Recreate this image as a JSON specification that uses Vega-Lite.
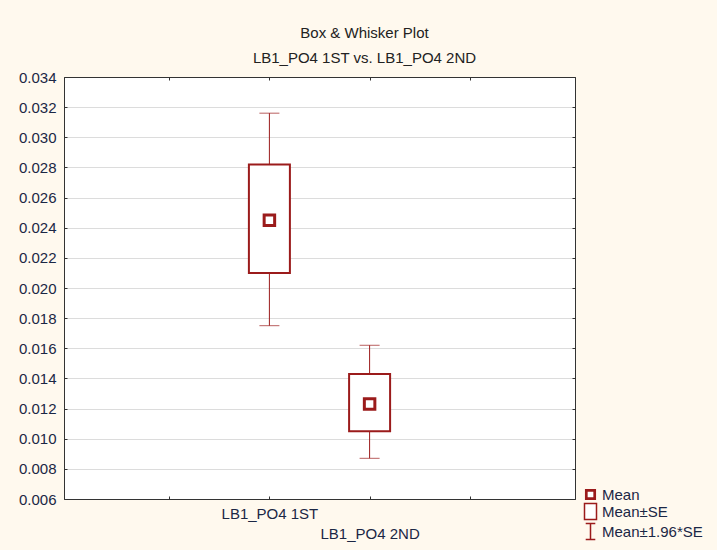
{
  "$schema": "https://vega.github.io/schema/vega-lite/v6.json",
  "width": 511,
  "height": 422,
  "autosize": {"type": "none"},
  "padding": {"left": 64, "top": 77, "right": 142, "bottom": 51},
  "background": "#FFF9EE",
  "config": {
    "font": "Liberation Sans",
    "view": {"fill": "#FFFFFF", "stroke": "#333333", "strokeWidth": 1},
    "axis": {
      "domainColor": "#333333",
      "tickColor": "#333333",
      "labelFont": "Liberation Sans",
      "labelFontSize": 15,
      "labelColor": "#1B2745",
      "title": null
    },
    "legend": {
      "labelFont": "Liberation Sans",
      "labelFontSize": 15,
      "labelColor": "#1B2745",
      "symbolSize": 144,
      "padding": 0,
      "rowPadding": -3,
      "labelOffset": 4
    },
    "title": {
      "font": "Liberation Sans",
      "fontSize": 15,
      "fontWeight": "normal",
      "color": "#222222",
      "subtitleFont": "Liberation Sans",
      "subtitleFontSize": 15,
      "subtitleColor": "#222222",
      "subtitlePadding": 10,
      "offset": 4,
      "anchor": "middle",
      "dx": 45
    }
  },
  "title": {
    "text": "Box & Whisker Plot",
    "subtitle": "LB1_PO4 1ST vs. LB1_PO4 2ND"
  },
  "data": {
    "values": [
      {"group": "LB1_PO4 1ST", "pos": 2, "mean": 0.0245, "se_lo": 0.0210, "se_hi": 0.0282, "ci_lo": 0.0175, "ci_hi": 0.0316},
      {"group": "LB1_PO4 2ND", "pos": 3, "mean": 0.0123, "se_lo": 0.0105, "se_hi": 0.0143, "ci_lo": 0.0087, "ci_hi": 0.0162}
    ]
  },
  "resolve": {"axis": {"x": "independent", "y": "independent"}},
  "layer": [
    {
      "mark": {"type": "rule", "color": "#9B1B1B", "strokeWidth": 1},
      "encoding": {
        "x": {
          "field": "pos",
          "type": "quantitative",
          "scale": {"domain": [0, 5], "nice": false, "zero": false},
          "axis": {
            "orient": "bottom",
            "values": [1, 2, 3, 4],
            "grid": false,
            "tickSize": -3,
            "labelPadding": 10,
            "labelLineHeight": 20,
            "labelBaseline": "top",
            "labelExpr": "datum.value == 2 ? 'LB1_PO4 1ST' : datum.value == 3 ? ['', 'LB1_PO4 2ND'] : ''"
          }
        },
        "y": {
          "field": "ci_lo",
          "type": "quantitative",
          "scale": {"domain": [0.006, 0.034], "nice": false, "zero": false},
          "axis": {
            "orient": "left",
            "values": [0.006, 0.008, 0.010, 0.012, 0.014, 0.016, 0.018, 0.020, 0.022, 0.024, 0.026, 0.028, 0.030, 0.032, 0.034],
            "format": ".3f",
            "grid": true,
            "gridColor": "#DCDCDC",
            "gridWidth": 1.2,
            "tickSize": -3,
            "labelPadding": 11
          }
        },
        "y2": {"field": "ci_hi"}
      }
    },
    {
      "mark": {"type": "tick", "orient": "horizontal", "color": "#9B1B1B", "size": 20, "thickness": 1},
      "encoding": {
        "x": {
          "field": "pos",
          "type": "quantitative",
          "axis": {"orient": "top", "values": [1, 2, 3, 4], "labels": false, "grid": false, "tickSize": -3}
        },
        "y": {
          "field": "ci_hi",
          "type": "quantitative",
          "axis": {"orient": "right", "values": [0.006, 0.008, 0.010, 0.012, 0.014, 0.016, 0.018, 0.020, 0.022, 0.024, 0.026, 0.028, 0.030, 0.032, 0.034], "labels": false, "grid": false, "tickSize": -3}
        }
      }
    },
    {
      "mark": {"type": "tick", "orient": "horizontal", "color": "#9B1B1B", "size": 20, "thickness": 1},
      "encoding": {
        "x": {"field": "pos", "type": "quantitative", "axis": null},
        "y": {"field": "ci_lo", "type": "quantitative", "axis": null}
      }
    },
    {
      "mark": {"type": "bar", "size": 41, "fill": "#FFFFFF", "stroke": "#9B1B1B", "strokeWidth": 2},
      "encoding": {
        "x": {"field": "pos", "type": "quantitative", "axis": null},
        "y": {"field": "se_lo", "type": "quantitative", "axis": null},
        "y2": {"field": "se_hi"}
      }
    },
    {
      "mark": {"type": "point", "filled": false, "fill": "#FFFFFF", "stroke": "#9B1B1B", "strokeWidth": 1.5, "size": 225, "opacity": 1},
      "encoding": {
        "x": {"field": "pos", "type": "quantitative", "axis": null},
        "y": {"field": "mean", "type": "quantitative", "axis": null},
        "shape": {
          "datum": "Mean",
          "type": "nominal",
          "scale": {
            "domain": ["Mean", "Mean±SE", "Mean±1.96*SE"],
            "range": [
              "M-0.8,-0.8H0.8V0.8H-0.8ZM-0.6,-0.6H0.6V0.6H-0.6Z",
              "M-1,-1.33H1V1.33H-1Z",
              "M-0.8,-1.33H0.8M0,-1.33V1.33M-0.8,1.33H0.8"
            ]
          },
          "legend": {
            "title": null,
            "orient": "none",
            "legendX": 519,
            "legendY": 410,
            "encode": {
              "symbols": {
                "update": {
                  "stroke": {"value": "#9B1B1B"},
                  "fill": {"value": "#FFFFFF"},
                  "strokeWidth": {"value": 1.5},
                  "opacity": {"value": 1}
                }
              }
            }
          }
        }
      }
    }
  ]
}
